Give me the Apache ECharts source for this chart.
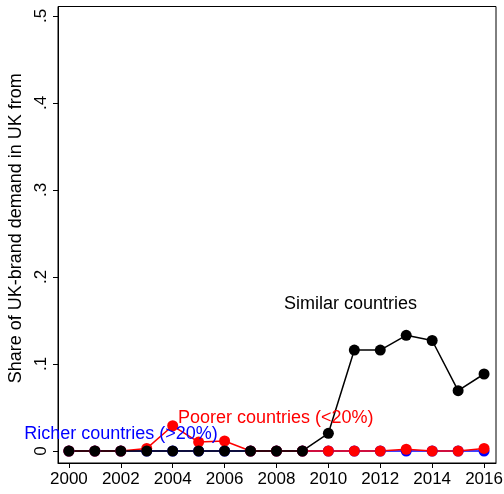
<!DOCTYPE html>
<html>
<head>
<meta charset="utf-8">
<script src="https://cdn.jsdelivr.net/npm/echarts@6/dist/echarts.min.js"></script>
<style>
    html, body {margin: 0; padding: 0; background: #fff;}
    #main {width: 504px; height: 494px;}
</style>
</head>
<body>
<div id="main"></div>
<script>
    var years = [2000, 2001, 2002, 2003, 2004, 2005, 2006, 2007, 2008, 2009, 2010, 2011, 2012, 2013, 2014, 2015, 2016];
    var richer = [0, 0, 0, 0, 0, 0, 0, 0, 0, 0, 0, 0, 0, 0, 0, 0, 0];
    var poorer = [0, 0, 0, 0.003, 0.029, 0.0103, 0.0115, 0, 0, 0, 0, 0, 0, 0.002, 0, 0, 0.003];
    var similar = [0, 0, 0, 0, 0, 0, 0, 0, 0, 0, 0.0203, 0.116, 0.116, 0.133, 0.127, 0.0693, 0.0885];
    var xTicks = [2000, 2002, 2004, 2006, 2008, 2010, 2012, 2014, 2016];
    var yTicks = [0, 0.1, 0.2, 0.3, 0.4, 0.5];

    function pairs(vals) {
        return years.map(function (y, i) { return [y, vals[i]]; });
    }

    // label text next to each line, placed in data coordinates
    function note(text, color, coord, pos) {
        return {
            symbol: 'circle',
            symbolSize: 0,
            silent: true,
            data: [{coord: coord}],
            label: {
                show: true,
                position: pos,
                distance: 0,
                formatter: text,
                color: color,
                fontSize: 18,
                fontFamily: 'Liberation Sans, Arial, sans-serif'
            }
        };
    }

    var font = 'Liberation Sans, Arial, sans-serif';
    var chart = echarts.init(document.getElementById('main'), null, {renderer: 'canvas'});
    var option = {
        animation: false,
        backgroundColor: '#fff',
        grid: {
            left: 58,
            right: 8,
            top: 6.5,
            bottom: 31,
            outerBoundsMode: 'none',
            containLabel: false,
            show: true,
            borderColor: '#000',
            borderWidth: 1,
            backgroundColor: '#fff'
        },
        xAxis: {
            type: 'value',
            min: 1999.58,
            max: 2016.46,
            axisLine: {show: true, onZero: false, lineStyle: {color: '#000', width: 1}},
            axisTick: {show: true, length: 5, customValues: xTicks, lineStyle: {color: '#000'}},
            axisLabel: {
                customValues: xTicks,
                color: '#000',
                fontSize: 17,
                fontFamily: font,
                margin: 8,
                formatter: function (v) { return String(v); }
            },
            splitLine: {show: false}
        },
        yAxis: {
            type: 'value',
            min: -0.0138,
            max: 0.5109,
            name: 'Share of UK-brand demand in UK from',
            nameLocation: 'middle',
            nameRotate: 90,
            nameGap: 32,
            nameTextStyle: {color: '#000', fontSize: 18, fontFamily: font, padding: [0, 0, 0, 13]},
            axisLine: {show: true, onZero: false, lineStyle: {color: '#000', width: 1}},
            axisTick: {show: true, length: 5, customValues: yTicks, lineStyle: {color: '#000'}},
            axisLabel: {
                customValues: yTicks,
                rotate: 90,
                color: '#000',
                fontSize: 17,
                fontFamily: font,
                margin: 8,
                formatter: function (v) {
                    if (v === 0) return '0';
                    return String(Math.round(v * 10) / 10).replace(/^0/, '');
                }
            },
            splitLine: {show: false}
        },
        series: [
            {
                name: 'Richer countries (>20%)',
                type: 'line',
                data: pairs(richer),
                symbol: 'circle',
                symbolSize: 11,
                color: '#0000ff',
                lineStyle: {width: 1.5, color: '#0000ff'},
                markPoint: note('Richer countries (>20%)', '#0000ff', [2005.74, 0.0195], 'left')
            },
            {
                name: 'Poorer countries (<20%)',
                type: 'line',
                data: pairs(poorer),
                symbol: 'circle',
                symbolSize: 11,
                color: '#ff0000',
                lineStyle: {width: 1.5, color: '#ff0000'},
                markPoint: note('Poorer countries (<20%)', '#ff0000', [2004.2, 0.038], 'right')
            },
            {
                name: 'Similar countries',
                type: 'line',
                data: pairs(similar),
                symbol: 'circle',
                symbolSize: 11,
                color: '#000',
                lineStyle: {width: 1.5, color: '#000'},
                markPoint: note('Similar countries', '#000', [2008.29, 0.169], 'right')
            }
        ]
    };
    chart.setOption(option);
</script>
</body>
</html>
